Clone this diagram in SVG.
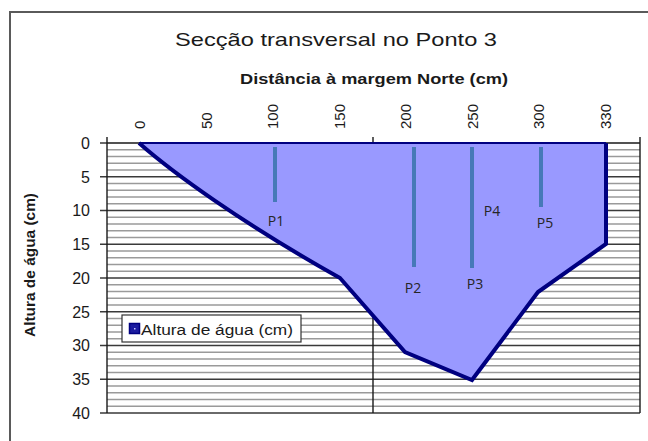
<svg xmlns="http://www.w3.org/2000/svg" width="648" height="441" viewBox="0 0 648 441">
<style>
.t{font-family:"Liberation Sans",Arial,sans-serif;fill:#1a1a1a}
.b{font-weight:bold}
.ylab{font-size:16px;text-anchor:end}
.xlab{font-size:15px}
.plab{font-family:"Open Sans","Liberation Sans",sans-serif;font-size:14px;fill:#262626;text-anchor:middle}
.minor{stroke:#9a9a9a;stroke-width:1.4;fill:none}
.major{stroke:#3a3a3a;stroke-width:1.4;fill:none}
.stick{stroke:#4679B8;stroke-width:4;fill:none}
</style>
<rect width="648" height="441" fill="#ffffff"/>
<rect x="10" y="12" width="700" height="500" fill="none" stroke="#5a5a5a" stroke-width="2"/>
<g id="title">
<text class="t" x="175" y="46" font-size="19" textLength="322" lengthAdjust="spacingAndGlyphs">Secção transversal no Ponto 3</text>
<text class="t b" x="240" y="84" font-size="15" textLength="268" lengthAdjust="spacingAndGlyphs">Distância à margem Norte (cm)</text>
<text class="t b" transform="translate(35,265) rotate(-90)" font-size="15.5" text-anchor="middle" textLength="144" lengthAdjust="spacingAndGlyphs">Altura de água (cm)</text>
</g>
<g id="grid">
<path class="minor" d="M107,149.75H640M107,156.5H640M107,163.25H640M107,170H640M107,183.5H640M107,190.25H640M107,197H640M107,203.75H640M107,217.25H640M107,224H640M107,230.75H640M107,237.5H640M107,251H640M107,257.75H640M107,264.5H640M107,271.25H640M107,284.75H640M107,291.5H640M107,298.25H640M107,305H640M107,318.5H640M107,325.25H640M107,332H640M107,338.75H640M107,352.25H640M107,359H640M107,365.75H640M107,372.5H640M107,386H640M107,392.75H640M107,399.5H640M107,406.25H640"/>
<path class="major" d="M100,176.75H640M100,210.5H640M100,244.25H640M100,278H640M100,311.75H640M100,345.5H640M100,379.25H640M100,413H640M100,143H107"/>
<path stroke="#1a1a1a" stroke-width="1.4" fill="none" d="M107,143H640M107,137V413M640,137V413M373,137V413"/>
</g>
<g id="yaxis-labels" class="t ylab">
<text x="90" y="149">0</text>
<text x="90" y="182.5">5</text>
<text x="90" y="216.3">10</text>
<text x="90" y="250">15</text>
<text x="90" y="283.8">20</text>
<text x="90" y="317.5">25</text>
<text x="90" y="351.3">30</text>
<text x="90" y="385">35</text>
<text x="90" y="418.8">40</text>
</g>
<g id="xaxis-labels" class="t xlab">
<text transform="translate(145,129) rotate(-90)">0</text>
<text transform="translate(212,129) rotate(-90)">50</text>
<text transform="translate(278,129) rotate(-90)">100</text>
<text transform="translate(345,129) rotate(-90)">150</text>
<text transform="translate(411,129) rotate(-90)">200</text>
<text transform="translate(478,129) rotate(-90)">250</text>
<text transform="translate(544,129) rotate(-90)">300</text>
<text transform="translate(611,129) rotate(-90)">330</text>
</g>
<g id="section">
<path d="M139,143 C172,172 240,222 340,278 L405,352 L472,380 L538,292 L606,244 L606,143 Z" fill="#9999FF"/>
<path d="M139,143 C172,172 240,222 340,278 L405,352 L472,380 L538,292 L606,244 L606,143" fill="none" stroke="#000080" stroke-width="4" stroke-linejoin="miter"/>
<path d="M139,143H606" stroke="#000080" stroke-width="2" fill="none"/>
</g>
<g id="sticks">
<path class="stick" d="M275,147V202"/>
<path class="stick" d="M414,147V267"/>
<path class="stick" d="M472,147V268"/>
<path class="stick" d="M541,147V207"/>
</g>
<g id="point-labels">
<text class="plab" x="276" y="226">P1</text>
<text class="plab" x="413" y="293">P2</text>
<text class="plab" x="475" y="289">P3</text>
<text class="plab" x="492" y="216">P4</text>
<text class="plab" x="545" y="228">P5</text>
</g>
<g id="legend">
<rect x="122" y="315" width="179" height="27" fill="#ffffff" stroke="#333" stroke-width="1.2"/>
<rect x="129.5" y="323.5" width="10" height="10" fill="#1c1ca0" stroke="#000080" stroke-width="1.5"/>
<rect x="134" y="328" width="1.5" height="1.5" fill="#c8c8ff"/>
<text class="t" x="141" y="335" font-size="14" textLength="152" lengthAdjust="spacingAndGlyphs">Altura de água (cm)</text>
</g>
</svg>
